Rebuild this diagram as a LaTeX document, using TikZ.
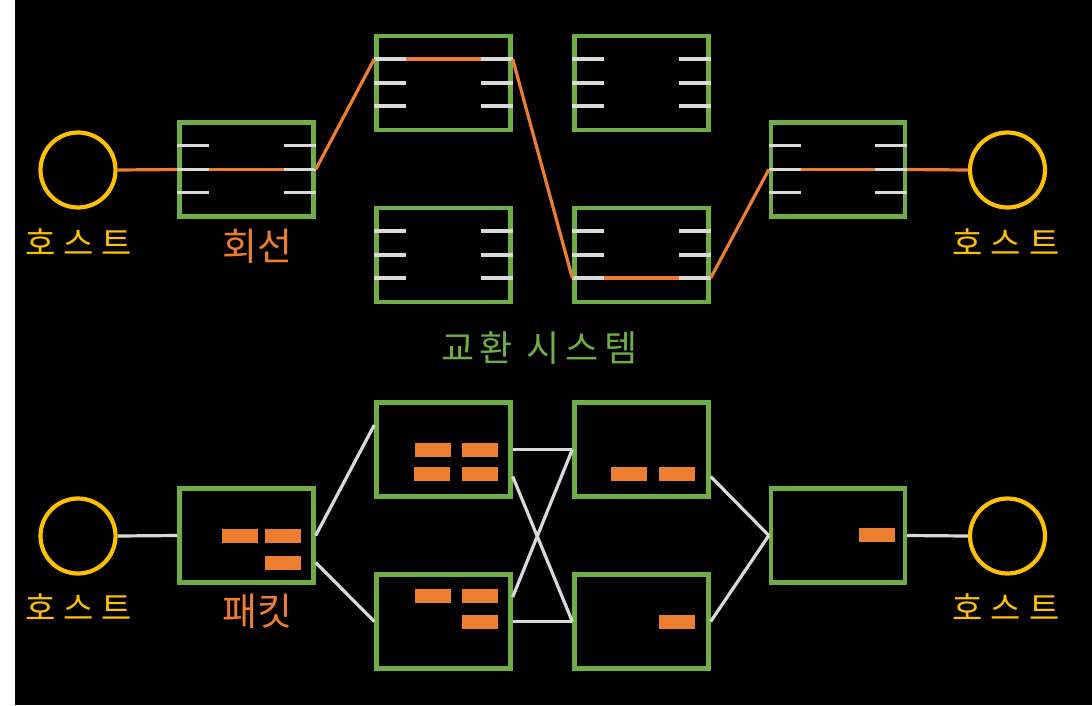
\documentclass[tikz,border=0pt]{standalone}
\usepackage{fontspec}
\usetikzlibrary{calc}
\newfontfamily\kr{Noto Sans CJK KR}
\newfontfamily\krsp[LetterSpace=24]{Noto Sans CJK KR}
\newfontfamily\krmid[LetterSpace=16]{Noto Sans CJK KR}
\definecolor{sgreen}{HTML}{70AD47}
\definecolor{sorange}{HTML}{ED7D31}
\definecolor{hyellow}{HTML}{FFC000}
\definecolor{lgray}{HTML}{D9D9D9}
\tikzset{
  swbox/.style={draw=sgreen, line width=4.4pt, minimum width=134pt, minimum height=94pt, inner sep=0pt},
  host/.style={circle, draw=hyellow, line width=4.2pt, minimum size=75pt, inner sep=0pt},
  stub/.style={draw=lgray, line width=3.2pt},
  circ/.style={draw=sorange, line width=3.2pt},
  link/.style={draw=lgray, line width=3.2pt},
  pkt/.style={fill=sorange, minimum width=36pt, minimum height=14pt, inner sep=0pt},
  hostlbl/.style={text=hyellow, inner sep=0pt, font=\krsp\fontsize{33}{33}\selectfont},
  orlbl/.style={text=sorange, inner sep=0pt, font=\kr\fontsize{38}{38}\selectfont},
  grlbl/.style={text=sgreen, inner sep=0pt, font=\krmid\fontsize{36}{36}\selectfont}
}
\newcommand\swb[3]{%
  \node[swbox] (#1) at (#2,#3) {};
  \foreach \k/\dy in {1/-24,2/0,3/23} {
    \coordinate (#1l\k) at ($(#1.west)+(0,\dy)$);
    \coordinate (#1li\k) at ($(#1.west)+(32,\dy)$);
    \coordinate (#1r\k) at ($(#1.east)+(0,\dy)$);
    \coordinate (#1ri\k) at ($(#1.east)+(-32,\dy)$);
    \draw[stub] (#1l\k) -- (#1li\k);
    \draw[stub] (#1ri\k) -- (#1r\k);
  }
}
\begin{document}
\begin{tikzpicture}[x=1pt,y=-1pt]
\fill[white] (0,0) rectangle (15,705);
\fill[black] (15,0) rectangle (1092,705);
\useasboundingbox (0,0) rectangle (1092,705);

% ---------- circuit switching ----------
\node[host] (hL) at (78,170) {};
\node[host] (hR) at (1007.5,170) {};
\swb{a}{246.5}{169.5}
\swb{b}{443.5}{83}
\swb{c}{641.5}{83}
\swb{d}{443.5}{255}
\swb{e}{641.5}{255}
\swb{f}{838}{169.5}

\draw[circ] (hL.east) -- (al2);
\draw[circ] (ali2) -- (ari2);
\draw[circ] (ar2) -- (bl1);
\draw[circ] (bli1) -- (bri1);
\draw[circ] (br1) -- (el3);
\draw[circ] (eli3) -- (eri3);
\draw[circ] (er3) -- (fl2);
\draw[circ] (fli2) -- (fri2);
\draw[circ] (fr2) -- (hR.west);

\node[hostlbl] (tL) at (78.5,242) {호스트};
\node[hostlbl] (tR) at (1006,242) {호스트};
\node[orlbl] (tc) at (257.5,246) {회선};
\node[grlbl] (ts) at (539.5,348) {교환 시스템};

% ---------- packet switching ----------
\node[host] (qL) at (78,536) {};
\node[host] (qR) at (1007.5,536) {};
\node[swbox] (p1) at (246.5,535.5) {};
\node[swbox] (p2) at (443.5,449.5) {};
\node[swbox] (p3) at (443.5,621.5) {};
\node[swbox] (p4) at (641.5,449.5) {};
\node[swbox] (p5) at (641.5,621.5) {};
\node[swbox] (p6) at (838,535.5) {};

\node[pkt] (k1a) at (240,536) {};
\node[pkt] (k1b) at (283,536) {};
\node[pkt] (k1c) at (283,562.5) {};
\node[pkt] (k2a) at (433,450) {};
\node[pkt] (k2b) at (480,450) {};
\node[pkt] (k2c) at (432,474) {};
\node[pkt] (k2d) at (480,474) {};
\node[pkt] (k3a) at (433,596) {};
\node[pkt] (k3b) at (480,596) {};
\node[pkt] (k3c) at (480,622) {};
\node[pkt] (k4a) at (629,474) {};
\node[pkt] (k4b) at (677,474) {};
\node[pkt] (k5a) at (677,622) {};
\node[pkt] (k6a) at (877,534.5) {};

\draw[link] (qL.east) -- (p1.west);
\draw[link] (p1.east) -- ($(p2.west)+(0,-24.5)$);
\draw[link] ($(p1.east)+(0,27)$) -- (p3.west);
\draw[link] (p2.east) -- (p4.west);
\draw[link] ($(p2.east)+(0,27)$) -- (p5.west);
\draw[link] ($(p3.east)+(0,-24.5)$) -- (p4.west);
\draw[link] (p3.east) -- (p5.west);
\draw[link] ($(p4.east)+(0,27)$) -- (p6.west);
\draw[link] (p5.east) -- (p6.west);
\draw[link] (p6.east) -- (qR.west);

\node[hostlbl] (uL) at (78.5,607) {호스트};
\node[hostlbl] (uR) at (1006,607) {호스트};
\node[orlbl] (tp) at (257.5,611) {패킷};
\end{tikzpicture}
\end{document}
